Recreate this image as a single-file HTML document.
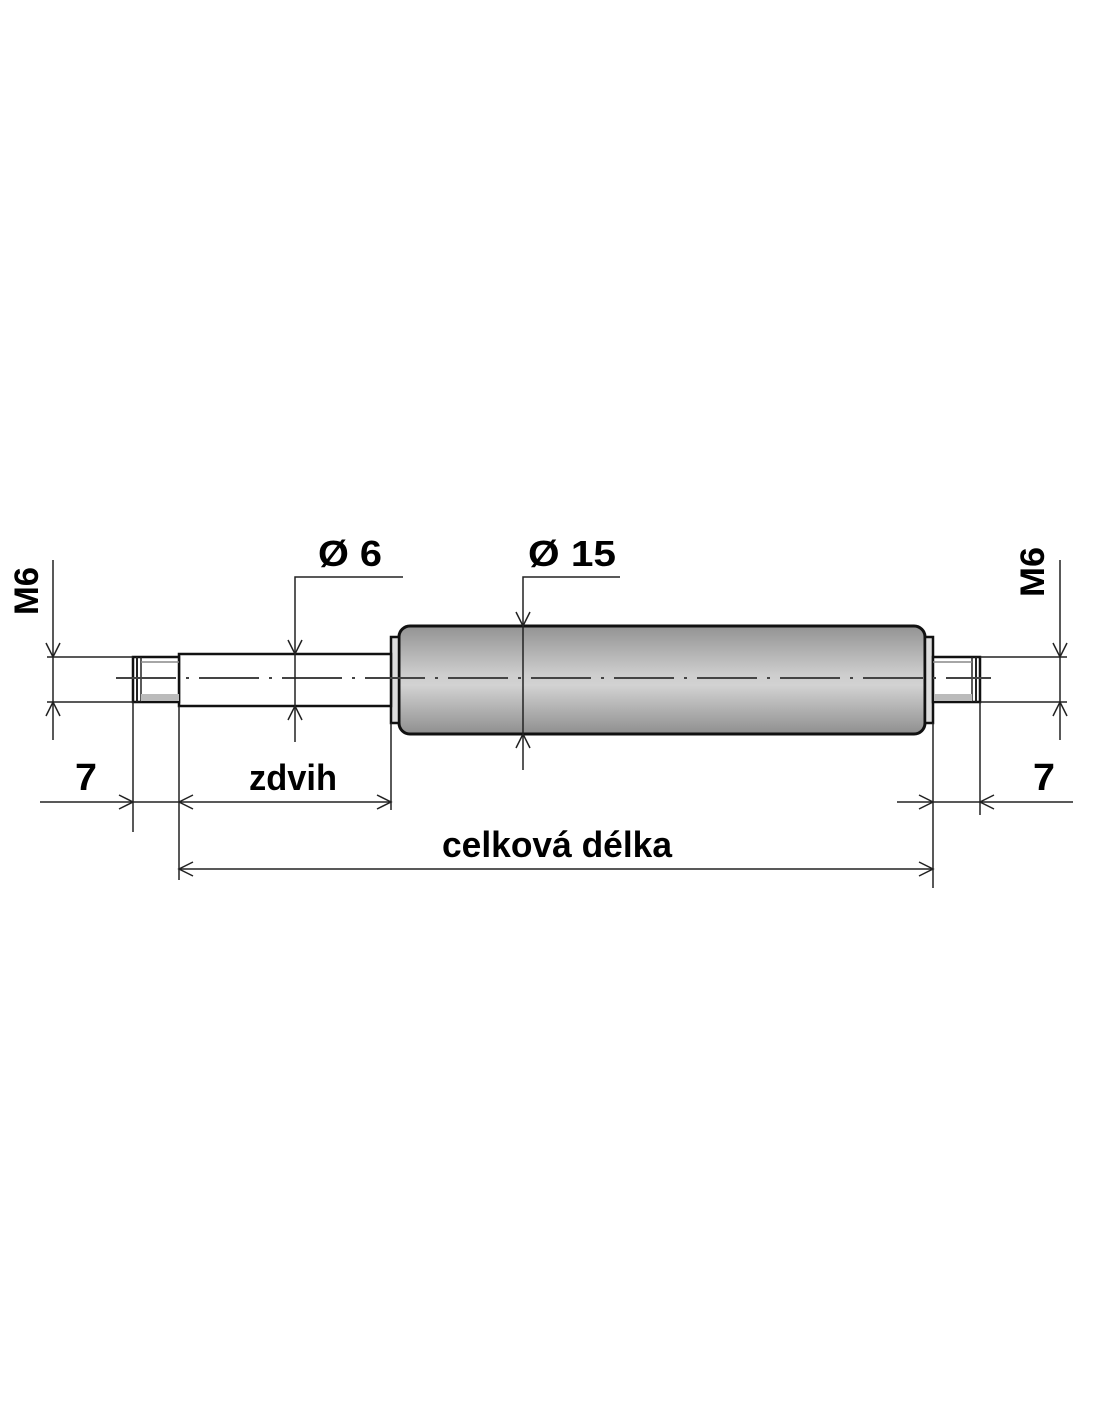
<!DOCTYPE html>
<html><head><meta charset="utf-8"><style>
html,body{margin:0;padding:0;background:#fff;}
svg{display:block;}
text{font-family:"Liberation Sans",sans-serif;font-weight:bold;fill:#000;}
</style></head><body>
<svg width="1100" height="1422" viewBox="0 0 1100 1422" xmlns="http://www.w3.org/2000/svg">
<defs>
<linearGradient id="cyl" x1="0" y1="0" x2="0" y2="1">
<stop offset="0" stop-color="#939393"/>
<stop offset="0.45" stop-color="#cdcdcd"/>
<stop offset="0.55" stop-color="#d2d2d2"/>
<stop offset="1" stop-color="#8f8f8f"/>
</linearGradient>
</defs>
<g stroke="#222" fill="none" stroke-width="1.5">
<rect x="399" y="626" width="526" height="108" rx="11" fill="url(#cyl)" stroke="#111" stroke-width="3"/>
<rect x="391" y="637" width="8" height="86" fill="#ddd" stroke="#111" stroke-width="2.5"/>
<rect x="925" y="637" width="8" height="86" fill="#ddd" stroke="#111" stroke-width="2.5"/>
<rect x="179" y="654" width="212" height="52" fill="#fff" stroke="#111" stroke-width="2.5"/>
<rect x="133" y="657" width="46" height="45" fill="#fff" stroke="#111" stroke-width="2.5"/>
<line x1="137" y1="657" x2="137" y2="702" stroke-width="2"/>
<line x1="141" y1="657" x2="141" y2="702" stroke-width="1.5"/>
<line x1="141" y1="662" x2="179" y2="662" stroke="#888"/>
<rect x="141" y="694" width="38" height="7" fill="#bbb" stroke="none"/>
<rect x="933" y="657" width="47" height="45" fill="#fff" stroke="#111" stroke-width="2.5"/>
<line x1="976" y1="657" x2="976" y2="702" stroke-width="2"/>
<line x1="972" y1="657" x2="972" y2="702" stroke-width="1.5"/>
<line x1="933" y1="662" x2="972" y2="662" stroke="#888"/>
<rect x="934" y="694" width="38" height="7" fill="#bbb" stroke="none"/>
<line x1="116" y1="678" x2="991" y2="678" stroke="#444" stroke-width="2" stroke-dasharray="60,10,3,10"/>
<line x1="53" y1="560" x2="53" y2="740"/>
<line x1="47" y1="657" x2="133" y2="657"/>
<line x1="47" y1="702" x2="133" y2="702"/>
<polyline points="46,643 53,657 60,643"/>
<polyline points="46,716 53,702 60,716"/>
<line x1="1060" y1="560" x2="1060" y2="740"/>
<line x1="980" y1="657" x2="1067" y2="657"/>
<line x1="980" y1="702" x2="1067" y2="702"/>
<polyline points="1053,643 1060,657 1067,643"/>
<polyline points="1053,716 1060,702 1067,716"/>
<polyline points="403,577 295,577 295,742"/>
<polyline points="288,640 295,654 302,640"/>
<polyline points="288,720 295,706 302,720"/>
<polyline points="620,577 523,577 523,770"/>
<polyline points="516,612 523,626 530,612"/>
<polyline points="516,748 523,734 530,748"/>
<line x1="133" y1="702" x2="133" y2="832"/>
<line x1="179" y1="706" x2="179" y2="880"/>
<line x1="391" y1="723" x2="391" y2="810"/>
<line x1="933" y1="723" x2="933" y2="888"/>
<line x1="980" y1="702" x2="980" y2="815"/>
<line x1="40" y1="802" x2="391" y2="802"/>
<polyline points="119,795 133,802 119,809"/>
<polyline points="193,795 179,802 193,809"/>
<polyline points="377,795 391,802 377,809"/>
<line x1="897" y1="802" x2="1073" y2="802"/>
<polyline points="919,795 933,802 919,809"/>
<polyline points="994,795 980,802 994,809"/>
<line x1="179" y1="869" x2="933" y2="869"/>
<polyline points="193,862 179,869 193,876"/>
<polyline points="919,862 933,869 919,876"/>
</g>
<text x="318" y="566" font-size="36" textLength="64" lengthAdjust="spacingAndGlyphs">Ø 6</text>
<text x="528" y="566" font-size="36" textLength="88" lengthAdjust="spacingAndGlyphs">Ø 15</text>
<text x="75" y="790" font-size="38" textLength="22" lengthAdjust="spacingAndGlyphs">7</text>
<text x="1033" y="790" font-size="38" textLength="22" lengthAdjust="spacingAndGlyphs">7</text>
<text x="249" y="790" font-size="36" textLength="88" lengthAdjust="spacingAndGlyphs">zdvih</text>
<text x="442" y="857" font-size="36" textLength="230" lengthAdjust="spacingAndGlyphs">celková délka</text>
<text transform="translate(38,615) rotate(-90)" font-size="34" textLength="48" lengthAdjust="spacingAndGlyphs">M6</text>
<text transform="translate(1044,597) rotate(-90)" font-size="34" textLength="50" lengthAdjust="spacingAndGlyphs">M6</text>
</svg>
</body></html>
